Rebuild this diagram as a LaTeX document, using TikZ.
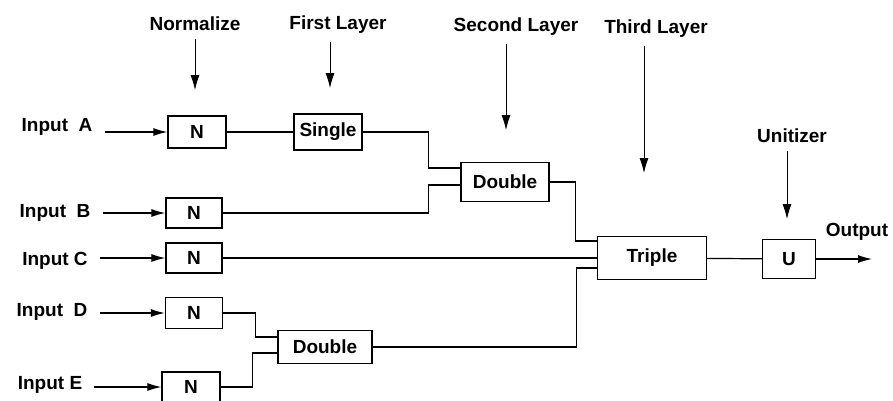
\documentclass[tikz,border=0pt]{standalone}
\usepackage{fontspec}
\setmainfont{Liberation Sans}
\usetikzlibrary{arrows.meta}
\usetikzlibrary{calc}

\begin{document}
\begin{tikzpicture}[
x=1pt, y=-1pt,
font=\fontsize{19}{22}\selectfont\bfseries,
txt/.style={inner sep=2pt},
block/.style={draw, line width=1.3pt, inner sep=2pt},
wire/.style={line width=1.2pt},
feed/.style={line width=1.2pt, shorten <=10pt, -{Latex[length=14pt,width=8pt]}},
hint/.style={line width=0.8pt, shorten <=6pt, -{Latex[length=15pt,width=9pt]}}
]
\useasboundingbox (0,0) rectangle (893,400);

% layer headings
\node[txt] (hnorm)   at (195,24)  {Normalize};
\node[txt] (hfirst)  at (338,25)  {First Layer};
\node[txt] (hsecond) at (516,27)  {Second Layer};
\node[txt] (hthird)  at (656,29)  {Third Layer};
\node[txt] (hunit)   at (792,136) {Unitizer};

% where the heading arrows stop
\coordinate (tnorm)   at (195,90);
\coordinate (tfirst)  at (330,88);
\coordinate (tsecond) at (506,130);
\coordinate (tthird)  at (644,173);
\coordinate (tunit)   at (787,219);

% inputs
\node[txt] (inA) at (57,127) {Input~~A};
\node[txt] (inB) at (55,213) {Input~~B};
\node[txt] (inC) at (55,261) {Input C};
\node[txt] (inD) at (52,312) {Input~~D};
\node[txt] (inE) at (50,385) {Input E};

% blocks
\node[block, minimum width=58pt, minimum height=32pt] (nA) at (197,132) {N};
\node[block, minimum width=68pt, minimum height=36pt] (single) at (328,132) {Single};
\node[block, minimum width=56pt, minimum height=30pt] (nB) at (194,213) {N};
\node[block, minimum width=88pt, minimum height=39pt] (dblA) at (505,182) {Double};
\node[block, minimum width=56pt, minimum height=30pt] (nC) at (194,258) {N};
\node[block, minimum width=109pt, minimum height=43pt] (triple) at (652,258) {Triple};
\node[block, minimum width=57pt, minimum height=31pt] (nD) at (194,313) {N};
\node[block, minimum width=94pt, minimum height=33pt] (dblB) at (325,347) {Double};
\node[block, minimum width=58pt, minimum height=30pt] (nE) at (191,387) {N};
\node[block, minimum width=53pt, minimum height=39pt] (unit) at (789,259) {U};

% output
\node[txt] (out) at (857,232) {Output};
\coordinate (tout) at (872,259);

% heading arrows
\draw[hint] (hnorm.south -| tnorm) -- (tnorm);
\draw[hint] (hfirst.south -| tfirst) -- (tfirst);
\draw[hint] (hsecond.south -| tsecond) -- (tsecond);
\draw[hint] (hthird.south -| tthird) -- (tthird);
\draw[hint] (hunit.south -| tunit) -- (tunit);

% input arrows
\draw[feed] (inA.east |- nA) -- (nA.west);
\draw[feed] (inB.east |- nB) -- (nB.west);
\draw[feed] (inC.east |- nC) -- (nC.west);
\draw[feed] (inD.east |- nD) -- (nD.west);
\draw[feed] (inE.east |- nE) -- (nE.west);

% connections
\draw[wire] (nA) -- (single);
\draw[wire] (single.east) -- ++(66,0) |- ($(dblA.west)+(0,-14)$);
\draw[wire] (nB.east) -- ++(206,0) |- ($(dblA.west)+(0,3)$);
\draw[wire] (dblA.east) -- ++(26,0) |- ($(triple.west)+(0,-17)$);
\draw[wire] (nC.east) -- (nC.east -| triple.west);
\draw[wire] (nD.east) -- ++(32,0) |- ($(dblB.west)+(0,-10)$);
\draw[wire] (nE.east) -- ++(32,0) |- ($(dblB.west)+(0,6)$);
\draw[wire] (dblB.east) -- ++(204,0) |- ($(triple.west)+(0,10)$);
\draw[wire] (triple) -- (unit);
\draw[feed, shorten <=0pt] (unit.east) -- (tout);

\end{tikzpicture}
\end{document}
